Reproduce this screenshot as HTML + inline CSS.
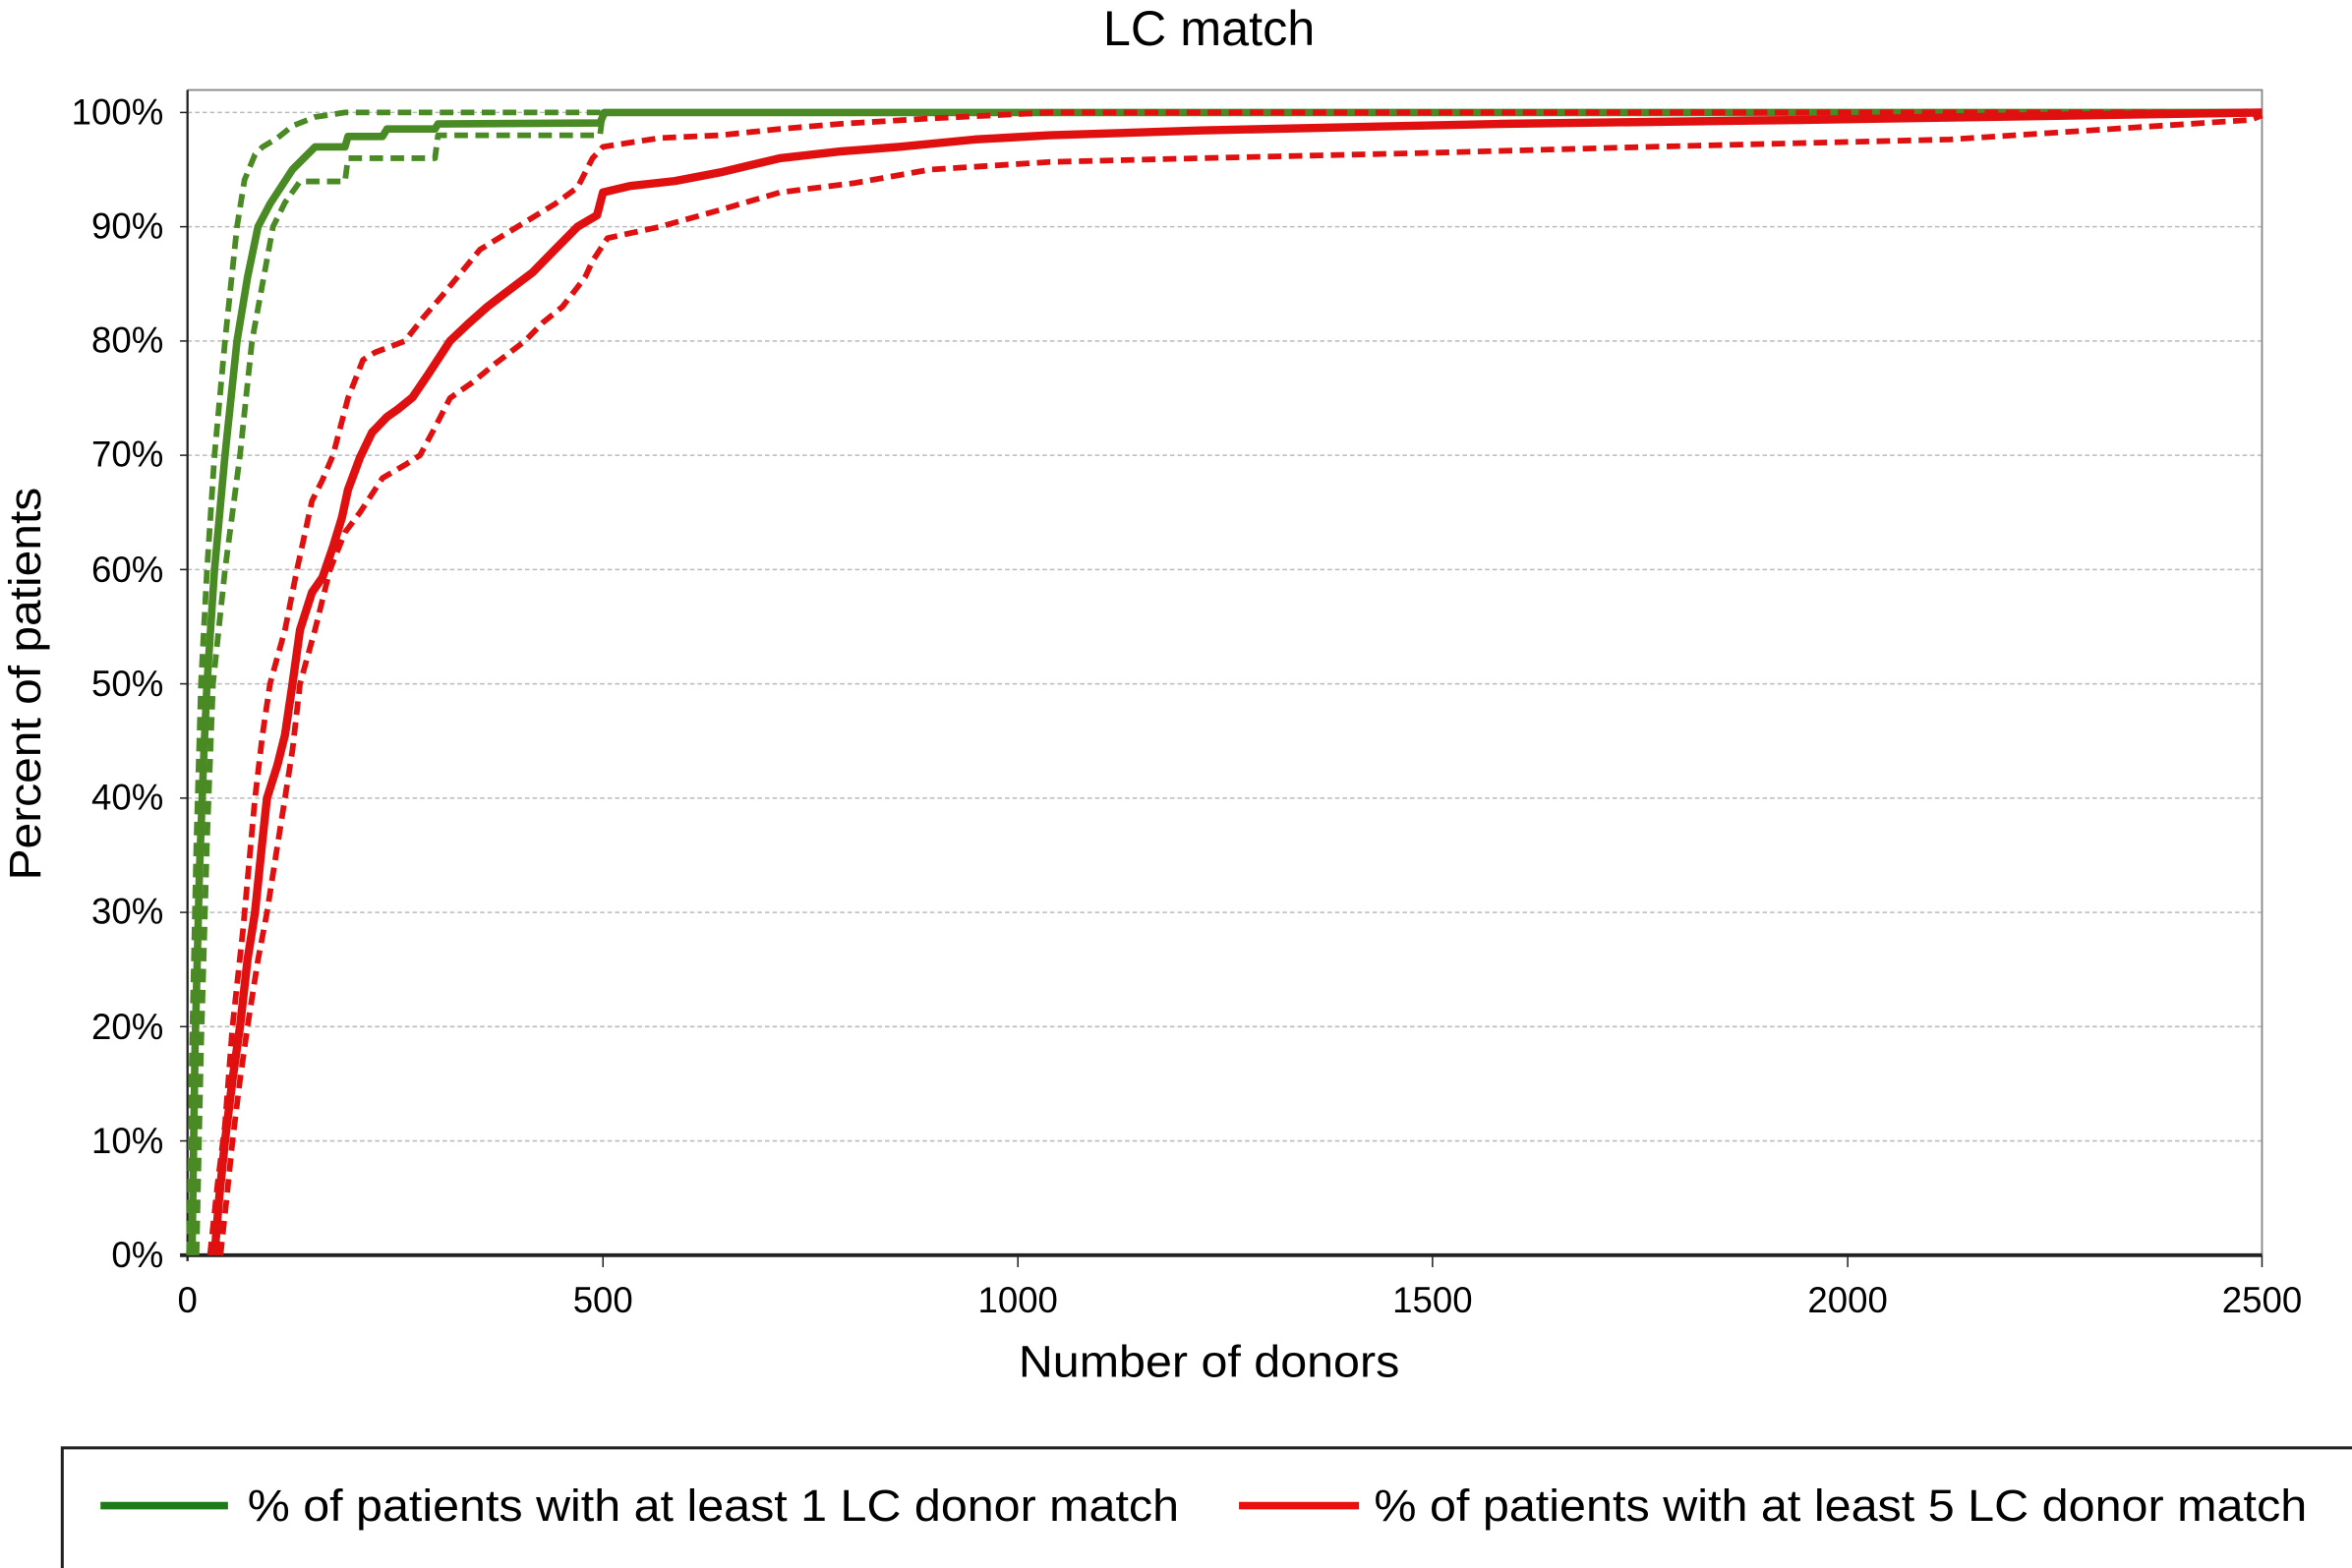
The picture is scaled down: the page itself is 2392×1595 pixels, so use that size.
<!DOCTYPE html>
<html><head><meta charset="utf-8"><style>
html,body{margin:0;padding:0;background:#fff;}
svg{display:block;}
text{font-family:"Liberation Sans",Arial,sans-serif;fill:#000;}
</style></head><body>
<svg width="2392" height="1595" viewBox="0 0 1568 1045.6" preserveAspectRatio="none" xmlns="http://www.w3.org/2000/svg">
<rect width="1568" height="1046" fill="#fff"/>
<text x="806" y="30" font-size="33" text-anchor="middle">LC match</text>
<g stroke="#bbb" stroke-width="1" stroke-dasharray="3,2">
<line x1="125" y1="75" x2="1508" y2="75"/>
<line x1="125" y1="151.2" x2="1508" y2="151.2"/>
<line x1="125" y1="227.4" x2="1508" y2="227.4"/>
<line x1="125" y1="303.6" x2="1508" y2="303.6"/>
<line x1="125" y1="379.8" x2="1508" y2="379.8"/>
<line x1="125" y1="456" x2="1508" y2="456"/>
<line x1="125" y1="532.2" x2="1508" y2="532.2"/>
<line x1="125" y1="608.4" x2="1508" y2="608.4"/>
<line x1="125" y1="684.6" x2="1508" y2="684.6"/>
<line x1="125" y1="760.8" x2="1508" y2="760.8"/>
</g>
<polyline points="125,60 1508,60 1508,837" fill="none" stroke="#888" stroke-width="1.2"/>
<line x1="125" y1="60" x2="125" y2="841" stroke="#222" stroke-width="1.5"/>
<line x1="120" y1="837" x2="1508" y2="837" stroke="#222" stroke-width="2.5"/>
<g stroke="#222" stroke-width="1">
<line x1="120" y1="75" x2="125" y2="75"/><line x1="120" y1="151.2" x2="125" y2="151.2"/><line x1="120" y1="227.4" x2="125" y2="227.4"/><line x1="120" y1="303.6" x2="125" y2="303.6"/><line x1="120" y1="379.8" x2="125" y2="379.8"/><line x1="120" y1="456" x2="125" y2="456"/><line x1="120" y1="532.2" x2="125" y2="532.2"/><line x1="120" y1="608.4" x2="125" y2="608.4"/><line x1="120" y1="684.6" x2="125" y2="684.6"/><line x1="120" y1="760.8" x2="125" y2="760.8"/>
<line x1="402" y1="837" x2="402" y2="845"/><line x1="678.6" y1="837" x2="678.6" y2="845"/><line x1="955" y1="837" x2="955" y2="845"/><line x1="1231.8" y1="837" x2="1231.8" y2="845"/><line x1="1508" y1="837" x2="1508" y2="845"/>
</g>
<g font-size="24" text-anchor="end">
<text x="109" y="83">100%</text><text x="109" y="159">90%</text><text x="109" y="235">80%</text><text x="109" y="311">70%</text><text x="109" y="388">60%</text><text x="109" y="464">50%</text><text x="109" y="540">40%</text><text x="109" y="616">30%</text><text x="109" y="693">20%</text><text x="109" y="769">10%</text><text x="109" y="845">0%</text>
</g>
<g font-size="24" text-anchor="middle">
<text x="125" y="875">0</text><text x="402" y="875">500</text><text x="678.6" y="875">1000</text><text x="955" y="875">1500</text><text x="1231.8" y="875">2000</text><text x="1508" y="875">2500</text>
</g>
<text x="806" y="918" font-size="30" text-anchor="middle" textLength="254" lengthAdjust="spacingAndGlyphs">Number of donors</text>
<text transform="translate(27,456) rotate(-90)" font-size="30" text-anchor="middle" textLength="262" lengthAdjust="spacingAndGlyphs">Percent of patients</text>

<!-- green -->
<g fill="none" stroke="#4a8a24" stroke-linejoin="round">
<polyline stroke-width="5" points="128,837 130,700 133,580 136,500 138,456 143,380 150,303.6 158,227.4 165,185 172,151.2 180,136 185,128.3 195,113 205,103 210,98 230,98 232,91 255,91 258,86 290,86 292,82.6 400,82 403,75 1508,75"/>
<polyline stroke-width="3.8" stroke-dasharray="9,5" points="126,837 128,700 131,560 134,456 138,380 143,303.6 150,227.4 158,151.2 163,120 170,103 175,98 185,92 195,84 210,78 230,75 1508,75"/>
<polyline stroke-width="3.8" stroke-dasharray="9,5" points="131,837 134,700 138,560 142,456 150,380 160,303.6 168,227.4 182,151.2 190,135 200,121 230,121 232,105.5 290,105.5 292,90.2 400,90.2 402,75 1508,75"/>
</g>
<!-- red -->
<g fill="none" stroke="#e01010" stroke-linejoin="round">
<polyline stroke-width="5.5" points="143,837 146,800 150,760.8 155,720 160,684.6 165,640 170,608.4 175,560 178,532.2 185,510 190,490 195,456 200,420 208,395 215,385 222,364.6 228,345 232,326.5 240,305 248,288.4 258,278 265,273.1 275,265 285,250.3 300,227.4 312,216 325,204.5 340,193 355,181.7 370,166.4 385,151.2 398,143.6 402,128.3 420,124 450,120.7 480,115 520,105.5 560,101 600,97.9 650,93 700,90.2 800,87 1000,82.6 1200,80 1508,75"/>
<polyline stroke-width="3.8" stroke-dasharray="9,5" points="140,837 145,790 150,750 155,684.6 162,620 170,532.2 175,490 180,456 190,420 198,379.8 208,334 215,320 222,303.6 232,265.5 242,240 250,235 270,227.4 282,212 295,196.9 320,166.4 345,151.2 370,136 385,125 395,105.5 402,97.9 440,92 480,90.2 520,86 560,82.6 620,79 700,75 1508,75"/>
<polyline stroke-width="3.8" stroke-dasharray="9,5" points="147,837 151,800 155,760.8 160,720 165,684.6 172,640 178,608.4 184,570 190,532.2 195,500 200,456 210,420 220,379.8 230,355 240,341.7 255,318.8 270,310 280,303.6 290,285 300,265.5 315,255 330,242.6 350,227.4 362,215 375,204.5 390,185 395,174.1 405,158.8 440,151.2 480,140 520,128.3 570,122 620,113.1 700,108 800,105.5 950,102 1100,97.9 1300,93 1500,80 1508,77"/>
</g>
<!-- legend -->
<rect x="41.5" y="965.5" width="1540" height="90" fill="none" stroke="#222" stroke-width="2"/>
<line x1="67" y1="1004" x2="152" y2="1004" stroke="#1f7a1a" stroke-width="5"/>
<text x="165" y="1014" font-size="30" textLength="621" lengthAdjust="spacingAndGlyphs">% of patients with at least 1 LC donor match</text>
<line x1="826" y1="1004" x2="906" y2="1004" stroke="#e81010" stroke-width="5"/>
<text x="916" y="1014" font-size="30" textLength="622" lengthAdjust="spacingAndGlyphs">% of patients with at least 5 LC donor match</text>
</svg>
</body></html>
